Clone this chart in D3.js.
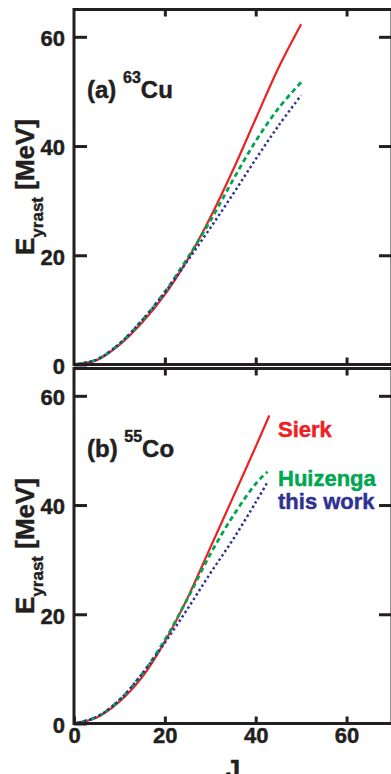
<!DOCTYPE html>
<html>
<head>
<meta charset="utf-8">
<script src="https://cdn.jsdelivr.net/npm/d3@7"></script>
<style>
body { margin: 0; background: #fff; }
text { font-family: "Liberation Sans", Arial, Helvetica, sans-serif; font-weight: bold; fill: #231f20; stroke-width: 0.45px; }
</style>
</head>
<body>
<div id="chart"></div>
<script>
// svg parameters
var svgWidth = 391;
var svgHeight = 774;

// 63Cu (upper panel)
var jCu = [0, 5, 10, 15, 20, 25, 30, 35, 40, 45, 50];
var sierkCu = [0, 0.8, 3.6, 7.7, 12.8, 19.2, 26.9, 35.6, 45.0, 54.3, 62.3];
var huizengaCu = [0, 0.9, 3.8, 8.1, 13.3, 19.5, 26.3, 33.8, 40.9, 46.9, 51.7];
var thisWorkCu = [0, 0.9, 3.8, 8.1, 13.2, 19.0, 25.0, 31.2, 37.6, 43.7, 49.3];

// 55Co (lower panel)
var jCoSierk = [0, 5, 10, 15, 20, 25, 30, 35, 40, 43];
var sierkCo = [0, 1.1, 4.0, 8.5, 15.0, 23.0, 32.2, 41.4, 50.7, 56.4];
var jCo = [0, 5, 10, 15, 20, 25, 30, 35, 40, 42.6];
var huizengaCo = [0, 1.2, 4.3, 9.1, 15.3, 22.9, 31.0, 38.0, 43.9, 46.1];
var thisWorkCo = [0, 1.2, 4.3, 9.1, 14.8, 21.0, 27.5, 33.7, 40.5, 44.2];

var seriesNames = ["Sierk", "Huizenga", "this work"];
var yTicks = [0, 20, 40, 60];
var xTicks = [0, 20, 40, 60];

var colors = {"Sierk": "#ed2024", "Huizenga": "#00a651", "this work": "#2e3192"};
var lineStyle = {
	"Sierk": {"width": 2.2, "dash": null},
	"Huizenga": {"width": 2.8, "dash": "5,3.5"},
	"this work": {"width": 2.5, "dash": "2.4,2.8"}
};

padding = {"left": 74, "top": 9.5};
var panelHeight = 355;
var panelTops = [9.5, 368.5];
var frameRight = 392;

var svg = d3.select("#chart").append("svg")
	.attr("width", svgWidth)
	.attr("height", svgHeight);

var xScale = d3.scaleLinear().domain([0, 70]).range([padding.left, frameRight]);

function zip(js, es) {
	return js.map(function(j, i) { return {"J": j, "E": es[i]}; });
}

function drawPanel(top, series, label, mass, element, showXLabels) {
	var yScale = d3.scaleLinear().domain([0, 65]).range([top + panelHeight, top]);
	var g = svg.append("g");

	var line = d3.line()
		.x(function(d) { return xScale(d.J); })
		.y(function(d) { return yScale(d.E); })
		.curve(d3.curveCatmullRom.alpha(0.5));

	// curves
	series.forEach(function(s) {
		g.append("path")
			.datum(s.data)
			.attr("d", line)
			.attr("fill", "none")
			.attr("stroke", colors[s.name])
			.attr("stroke-width", lineStyle[s.name].width)
			.attr("stroke-dasharray", lineStyle[s.name].dash);
	});

	// frame
	g.append("rect")
		.attr("x", padding.left)
		.attr("y", top)
		.attr("width", frameRight - padding.left)
		.attr("height", panelHeight)
		.attr("fill", "none")
		.attr("stroke", "#231f20")
		.attr("stroke-width", 3);

	// axes, ticks pointing inward
	var yAxis = d3.axisLeft(yScale).tickValues(yTicks).tickSizeInner(-13).tickSizeOuter(0).tickPadding(9);
	g.append("g").attr("class", "yAxis")
		.attr("transform", "translate(" + padding.left + ",0)")
		.call(yAxis);

	var yAxisR = d3.axisRight(yScale).tickValues([20, 40, 60]).tickSizeInner(-13).tickSizeOuter(0).tickFormat("");
	g.append("g").attr("class", "yAxis")
		.attr("transform", "translate(" + frameRight + ",0)")
		.call(yAxisR);

	var xAxisT = d3.axisTop(xScale).tickValues([20, 40, 60]).tickSizeInner(-7).tickSizeOuter(0).tickFormat("");
	g.append("g").attr("class", "xAxis")
		.attr("transform", "translate(0," + top + ")")
		.call(xAxisT);

	var xAxisB = d3.axisBottom(xScale).tickValues(showXLabels ? xTicks : [20, 40, 60])
		.tickSizeInner(-7).tickSizeOuter(0).tickPadding(4);
	if (!showXLabels) xAxisB.tickFormat("");
	g.append("g").attr("class", "xAxis")
		.attr("transform", "translate(0," + (top + panelHeight) + ")")
		.call(xAxisB);

	g.selectAll(".domain").remove();
	g.selectAll(".tick line").attr("stroke", "#231f20").attr("stroke-width", 3);
	g.selectAll(".tick text").attr("font-size", 22).attr("fill", "#231f20")
		.attr("stroke", "#231f20").attr("font-family", null);
	g.selectAll(".yAxis .tick text").attr("dy", "0.4em");

	// panel label
	var t = g.append("text")
		.attr("x", 87)
		.attr("y", top + 88.5)
		.attr("font-size", 24)
		.attr("stroke", "#231f20");
	t.append("tspan").text(label + " ");
	t.append("tspan").attr("font-size", 16).attr("dy", -15).text(mass);
	t.append("tspan").attr("dy", 15).text(element);

	// y label
	var yl = g.append("text")
		.attr("transform", "translate(33.5," + (top + panelHeight / 2) + ") rotate(-90)")
		.attr("text-anchor", "middle")
		.attr("font-size", 26)
		.attr("stroke", "#231f20");
	yl.append("tspan").text("E");
	yl.append("tspan").attr("font-size", 17).attr("dy", 9).text("yrast");
	yl.append("tspan").attr("dy", -9).text(" [MeV]");

	return yScale;
}

drawPanel(panelTops[0], [
	{"name": "Sierk", "data": zip(jCu, sierkCu)},
	{"name": "Huizenga", "data": zip(jCu, huizengaCu)},
	{"name": "this work", "data": zip(jCu, thisWorkCu)}
], "(a)", "63", "Cu", false);

drawPanel(panelTops[1], [
	{"name": "Sierk", "data": zip(jCoSierk, sierkCo)},
	{"name": "Huizenga", "data": zip(jCo, huizengaCo)},
	{"name": "this work", "data": zip(jCo, thisWorkCo)}
], "(b)", "55", "Co", true);

// legend
var legendY = [437.3, 485.5, 508.8];
svg.append("g").selectAll("text")
	.data(seriesNames)
	.enter()
	.append("text")
	.attr("x", 278)
	.attr("y", function(d, i) { return legendY[i]; })
	.attr("font-size", 22)
	.style("fill", function(d) { return colors[d]; })
	.style("stroke", function(d) { return colors[d]; })
	.text(function(d) { return d; });

// x label
svg.append("text")
	.attr("x", (padding.left + frameRight) / 2)
	.attr("y", 778)
	.attr("text-anchor", "middle")
	.attr("font-size", 26)
	.attr("stroke", "#231f20")
	.text("J");
</script>
</body>
</html>
